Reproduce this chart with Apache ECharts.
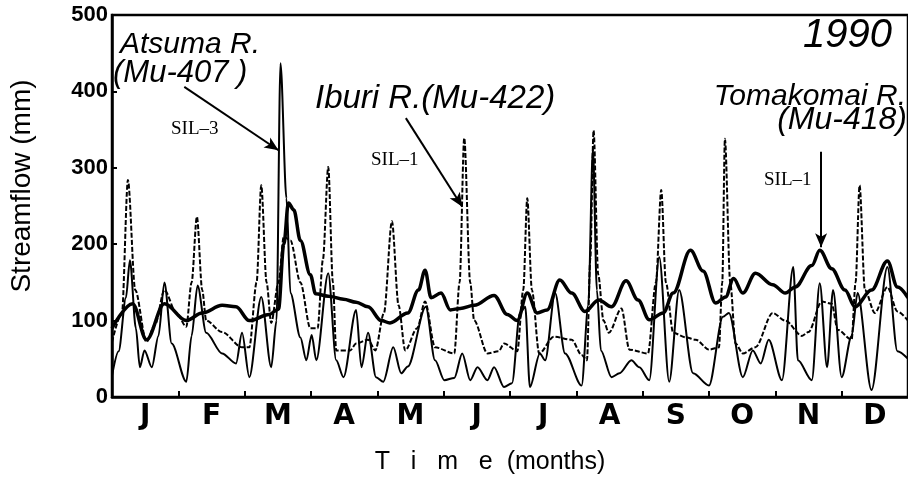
<!DOCTYPE html>
<html>
<head>
<meta charset="utf-8">
<script src="https://cdn.jsdelivr.net/npm/echarts@6/dist/echarts.min.js"></script>
<style>
  html, body { margin: 0; padding: 0; background: #fff; }
  #streamflow { width: 908px; height: 496px; }
</style>
</head>
<body>
<div id="streamflow"></div>
<script>
// time axis in months from 1 Jan 1990 (0 = Jan 1, 12 = end of Dec), streamflow in mm
const monthLabels = ['J', 'F', 'M', 'A', 'M', 'J', 'J', 'A', 'S', 'O', 'N', 'D'];
const monthStarts = [0, 1, 2, 3, 4, 5, 6, 7, 8, 9, 10, 11, 12];
const monthMids = [0.5, 1.5, 2.5, 3.5, 4.5, 5.5, 6.5, 7.5, 8.5, 9.5, 10.5, 11.5];

// Tomakomai R. (Mu-418) - thick line
const tomakomai = [
  [0, 90], [0.31, 122], [0.52, 75], [0.79, 122], [1.12, 100], [1.36, 110], [1.66, 120], [1.87, 118],
  [2.07, 100], [2.37, 108], [2.51, 115], [2.59, 200], [2.66, 254], [2.74, 245], [2.84, 205], [2.99, 160],
  [3.07, 135], [3.26, 132], [3.49, 128], [3.68, 124], [3.86, 118], [4.06, 100], [4.19, 97], [4.46, 110],
  [4.62, 140], [4.72, 166], [4.81, 130], [4.96, 136], [5.10, 114], [5.25, 116], [5.46, 120], [5.76, 133],
  [5.96, 108], [6.11, 100], [6.26, 136], [6.41, 110], [6.56, 114], [6.75, 153], [6.93, 136], [7.13, 112],
  [7.34, 127], [7.53, 118], [7.75, 152], [7.93, 127], [8.10, 101], [8.31, 110], [8.46, 136], [8.72, 192],
  [8.91, 165], [9.10, 123], [9.25, 131], [9.37, 155], [9.51, 136], [9.70, 162], [9.96, 147], [10.15, 136],
  [10.30, 144], [10.55, 172], [10.67, 192], [10.85, 168], [11.05, 140], [11.20, 118], [11.45, 140],
  [11.69, 178], [11.84, 144], [12, 130]
];

// Iburi R. (Mu-422) - dashed line
const iburi = [
  [0, 72], [0.15, 110], [0.24, 284], [0.35, 140], [0.52, 72], [0.65, 95], [0.79, 140], [0.97, 110],
  [1.12, 92], [1.20, 150], [1.28, 236], [1.36, 140], [1.42, 100], [1.66, 85], [1.96, 65], [2.07, 65],
  [2.18, 150], [2.25, 277], [2.33, 150], [2.40, 97], [2.51, 150], [2.59, 210], [2.69, 205], [2.84, 150],
  [2.99, 90], [3.10, 90], [3.18, 180], [3.26, 301], [3.33, 150], [3.38, 61], [3.59, 61], [3.68, 70],
  [3.86, 75], [3.97, 61], [4.10, 110], [4.22, 230], [4.32, 120], [4.42, 61], [4.60, 90], [4.72, 125],
  [4.87, 65], [5.16, 57], [5.24, 150], [5.31, 339], [5.40, 150], [5.46, 100], [5.66, 57], [5.83, 60],
  [5.91, 70], [6.11, 60], [6.20, 140], [6.26, 260], [6.33, 140], [6.44, 57], [6.66, 79], [6.93, 75],
  [7.08, 55], [7.16, 48], [7.21, 180], [7.26, 349], [7.33, 160], [7.41, 100], [7.49, 84], [7.68, 116],
  [7.80, 62], [8.08, 57], [8.20, 150], [8.28, 271], [8.35, 150], [8.46, 84], [8.65, 78], [8.80, 75],
  [9.00, 62], [9.15, 65], [9.20, 150], [9.24, 338], [9.32, 150], [9.40, 70], [9.51, 57], [9.70, 65],
  [9.96, 110], [10.15, 100], [10.40, 80], [10.50, 85], [10.70, 125], [10.85, 122], [10.94, 88],
  [11.15, 75], [11.21, 150], [11.27, 277], [11.35, 140], [11.50, 110], [11.69, 144], [11.84, 112], [12, 100]
];

// Atsuma R. (Mu-407) - thin solid line
const atsuma = [
  [0, 28], [0.10, 60], [0.21, 130], [0.27, 179], [0.36, 90], [0.42, 39], [0.49, 61], [0.60, 39],
  [0.70, 80], [0.79, 150], [0.90, 70], [1.12, 20], [1.20, 80], [1.29, 146], [1.42, 84], [1.66, 57],
  [1.87, 44], [1.96, 84], [2.07, 26], [2.25, 131], [2.40, 39], [2.48, 100], [2.54, 437], [2.63, 260],
  [2.69, 136], [2.84, 78], [2.93, 48], [3.01, 81], [3.08, 48], [3.26, 162], [3.38, 48], [3.49, 26],
  [3.68, 114], [3.76, 39], [3.86, 84], [3.98, 26], [4.09, 20], [4.24, 65], [4.36, 31], [4.46, 40],
  [4.73, 118], [4.87, 48], [5.01, 22], [5.16, 25], [5.28, 57], [5.40, 22], [5.51, 39], [5.66, 22],
  [5.76, 39], [5.91, 13], [6.03, 18], [6.15, 110], [6.23, 118], [6.30, 13], [6.45, 57], [6.53, 48],
  [6.68, 136], [6.83, 57], [7.08, 15], [7.18, 120], [7.25, 325], [7.31, 140], [7.37, 61], [7.53, 26],
  [7.65, 31], [7.83, 48], [7.95, 39], [8.10, 22], [8.25, 183], [8.40, 20], [8.55, 140], [8.76, 31],
  [9.00, 15], [9.21, 105], [9.30, 110], [9.51, 26], [9.66, 61], [9.78, 44], [9.90, 75], [10.10, 22],
  [10.27, 170], [10.34, 48], [10.55, 22], [10.67, 149], [10.78, 39], [10.87, 140], [11.00, 26],
  [11.15, 80], [11.24, 136], [11.45, 9], [11.69, 170], [11.84, 60], [12, 50]
];

// annotation arrows [from, to] as [month, mm]
const arrows = [
  [[1.09, 406], [2.51, 323]],
  [[4.43, 365], [5.28, 249]],
  [[10.69, 321], [10.69, 196]]
];

const chart = echarts.init(document.getElementById('streamflow'));
const ink = '#000';
const sans = 'Liberation Sans';

const option = {
  animation: false,
  backgroundColor: '#fff',
  grid: {
    left: 112, top: 15, width: 802, height: 382,
    show: true, borderColor: ink, borderWidth: 2.5, backgroundColor: 'transparent'
  },
  xAxis: {
    type: 'value', min: 0, max: 12,
    axisLine: { show: true, lineStyle: { color: ink, width: 2.5 } },
    axisTick: { show: true, inside: true, length: 6, customValues: monthStarts, lineStyle: { color: ink, width: 2 } },
    axisLabel: {
      customValues: monthMids,
      formatter: v => monthLabels[Math.floor(v)],
      color: ink, fontFamily: 'DejaVu Sans', fontWeight: 'bold', fontSize: 28, margin: 6
    },
    splitLine: { show: false }
  },
  yAxis: {
    type: 'value', min: 0, max: 500, interval: 100,
    axisLine: { show: true, lineStyle: { color: ink, width: 2.5 } },
    axisTick: { show: true, inside: true, length: 5, lineStyle: { color: ink, width: 2 } },
    axisLabel: { color: ink, fontFamily: sans, fontWeight: 'bold', fontSize: 22, margin: 4 },
    splitLine: { show: false }
  },
  series: [
    {
      name: 'Tomakomai R.', type: 'line', data: tomakomai, smooth: 0.35, smoothMonotone: 'x',
      showSymbol: false, lineStyle: { color: ink, width: 3.5 }, z: 3
    },
    {
      name: 'Iburi R.', type: 'line', data: iburi, smooth: 0.3, smoothMonotone: 'x',
      showSymbol: false, lineStyle: { color: ink, width: 2, type: [5, 2] }, z: 2
    },
    {
      name: 'Atsuma R.', type: 'line', data: atsuma, smooth: 0.3, smoothMonotone: 'x',
      showSymbol: false, lineStyle: { color: ink, width: 2 }, z: 4,
      markLine: {
        silent: true, symbol: ['none', 'arrow'], symbolSize: [9, 14],
        label: { show: false },
        lineStyle: { color: ink, width: 2, type: 'solid' },
        data: arrows.map(a => [{ coord: a[0] }, { coord: a[1] }])
      }
    }
  ],
  graphic: [
    { type: 'text', left: 120, top: 30, style: { text: 'Atsuma R.', fontFamily: sans, fontStyle: 'italic', fontSize: 30, fill: ink } },
    { type: 'text', left: 113, top: 58, style: { text: '(Mu-407 )', fontFamily: sans, fontStyle: 'italic', fontSize: 31, fill: ink } },
    { type: 'text', left: 315, top: 82, style: { text: 'Iburi R.(Mu-422)', fontFamily: sans, fontStyle: 'italic', fontSize: 33, fill: ink } },
    { type: 'text', right: 2, top: 82, style: { text: 'Tomakomai R.', fontFamily: sans, fontStyle: 'italic', fontSize: 30, fill: ink } },
    { type: 'text', right: 1, top: 104, style: { text: '(Mu-418)', fontFamily: sans, fontStyle: 'italic', fontSize: 32, fill: ink } },
    { type: 'text', right: 16, top: 16, style: { text: '1990', fontFamily: sans, fontStyle: 'italic', fontSize: 40, fill: ink } },
    { type: 'text', left: 171, top: 120, style: { text: 'SIL–3', fontFamily: 'Liberation Serif', fontSize: 19, fill: ink } },
    { type: 'text', left: 371, top: 151, style: { text: 'SIL–1', fontFamily: 'Liberation Serif', fontSize: 19, fill: ink } },
    { type: 'text', left: 764, top: 171, style: { text: 'SIL–1', fontFamily: 'Liberation Serif', fontSize: 19, fill: ink } },
    {
      type: 'text', x: 22, y: 186, rotation: Math.PI / 2,
      style: { text: 'Streamflow (mm)', fontFamily: sans, fontSize: 28, fill: ink, align: 'center', verticalAlign: 'middle' }
    },
    {
      type: 'text', x: 490, y: 462,
      style: { text: 'T   i   m   e  (months)', fontFamily: sans, fontSize: 25, fill: ink, align: 'center', verticalAlign: 'middle' }
    }
  ]
};

chart.setOption(option);
window.addEventListener('resize', function () {
  chart.resize();
});
</script>
</body>
</html>
